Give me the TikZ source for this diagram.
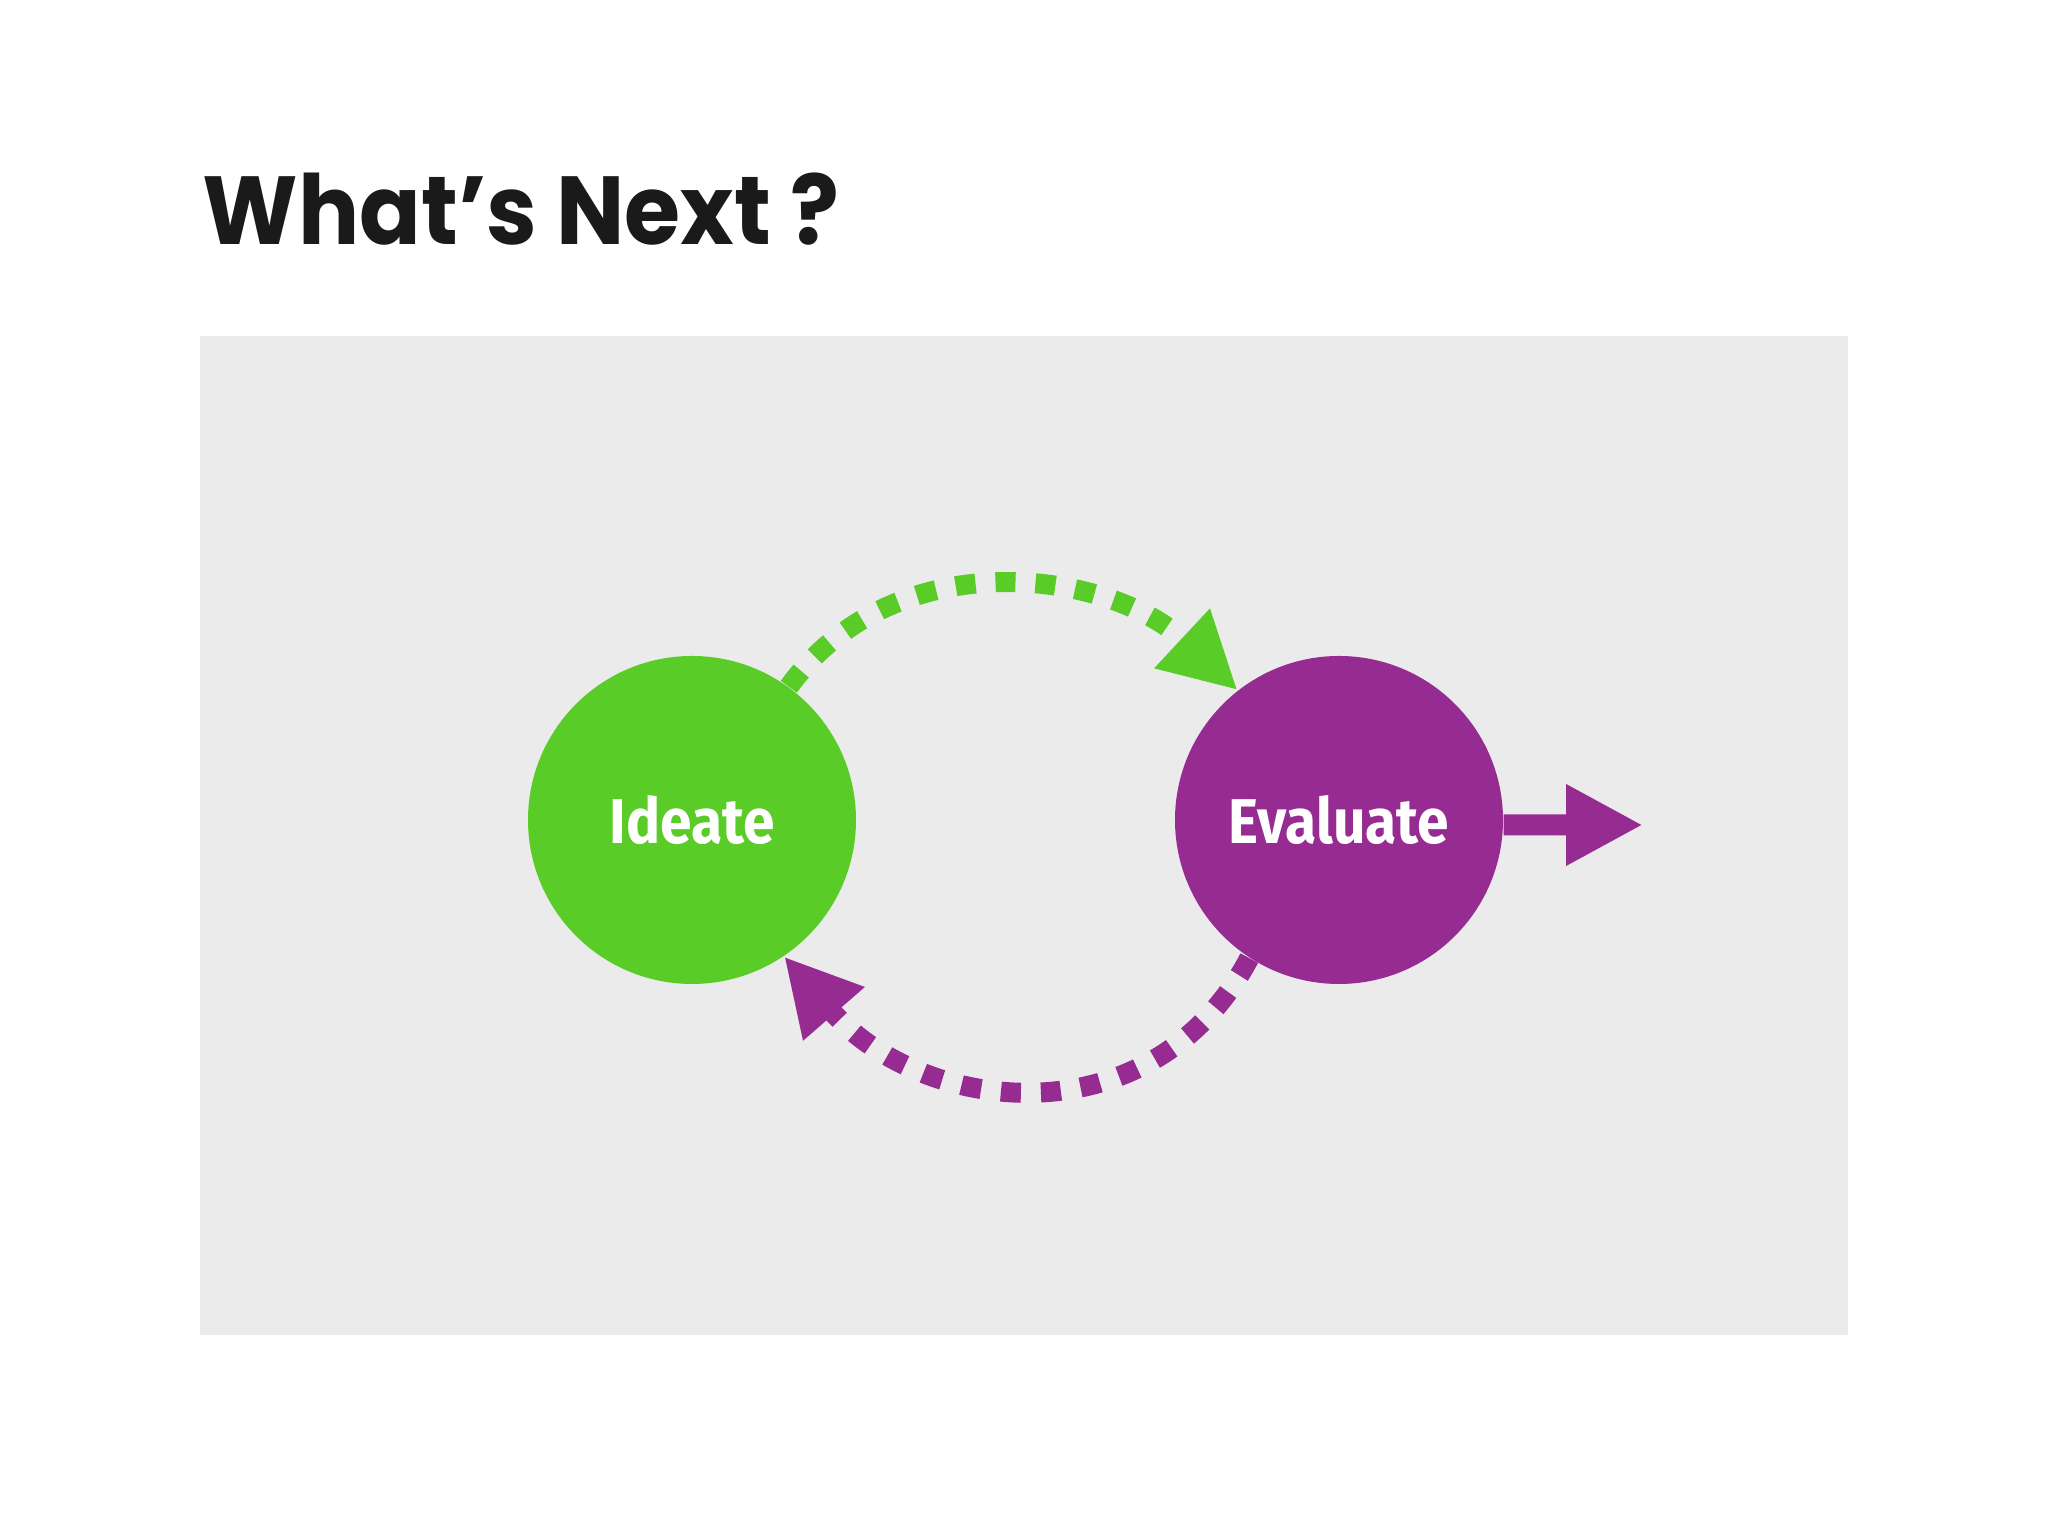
\documentclass[tikz,border=0pt]{standalone}
\usepackage{fontspec}
\usetikzlibrary{arrows.meta, positioning}
\newfontfamily\titlefont{Poppins}[FakeStretch=0.94]
\newfontfamily\labelfont{Fira Sans}[FakeStretch=0.9]
\definecolor{color1}{RGB}{90,204,39}
\definecolor{color2}{RGB}{150,43,145}
\definecolor{color3}{RGB}{235,235,236}
\definecolor{color4}{RGB}{26,26,26}

\begin{document}
\begin{tikzpicture}
    \useasboundingbox (0,0) rectangle (20.48,15.36);
    \fill[white] (0,0) rectangle (20.48,15.36);
    \fill[color3] (2.00,2.01) rectangle (18.48,12.00);

    \tikzset{
    % one style for each stage circle and each loop arrow
    node1/.style={circle, fill=color1, minimum size=3.28cm, inner sep=0, text=white,
        font=\fontsize{18}{20}\selectfont\labelfont\bfseries},
    node2/.style={circle, fill=color2, minimum size=3.28cm, inner sep=0, text=white,
        font=\fontsize{18}{20}\selectfont\labelfont\bfseries},
    arc1/.style={color1, line width=0.2cm, dash pattern=on 0.2cm off 0.2cm,
        -{Triangle[length=0.76cm, width=0.76cm]}},
    arc2/.style={color2, line width=0.2cm, dash pattern=on 0.2cm off 0.2cm,
        -{Triangle[length=0.76cm, width=0.76cm]}},
    exit/.style={color2, line width=0.21cm, -{Triangle[length=0.77cm, width=0.76cm]}}
    }

    % heading
    \node[anchor=base west, inner sep=0, text=color4,
        font=\fontsize{27.5}{30}\selectfont\titlefont\bfseries] (title) at (2.02,12.91) {What’s Next ?};

    % the two stages
    \node[node1] (ideate) at (6.92,7.16) {Ideate};
    \node[node2] (evaluate) at (13.39,7.16) {Evaluate};

    % loop between them
    \draw[arc1] (ideate.54) to[out=54, in=137, looseness=1.02] (evaluate.128);
    \draw[arc2] (evaluate.237) to[out=242, in=311, looseness=1.15] (ideate.304);

    % way out
    \coordinate (out) at (16.43,7.11);
    \draw[exit] ([yshift=-0.05cm]evaluate.east) -- (out);
\end{tikzpicture}
\end{document}
